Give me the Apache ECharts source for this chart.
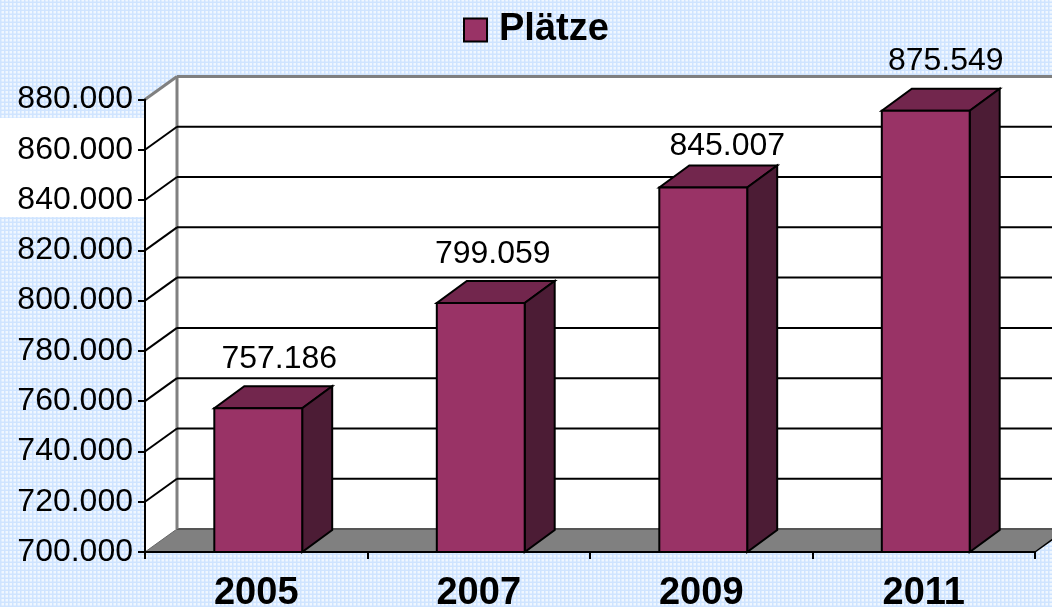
<!DOCTYPE html>
<html>
<head>
<meta charset="utf-8">
<title>Plätze</title>
<script src="https://cdn.jsdelivr.net/npm/echarts@6/dist/echarts.min.js"></script>
<style>
  html, body { margin: 0; padding: 0; }
  #wrap {
    position: relative; width: 1052px; height: 607px; overflow: hidden;
    background-color: #f0f7ff;
    background-image:
      repeating-linear-gradient(90deg, #cfe4ff 0, #cfe4ff 1px, rgba(255,255,255,0) 2px, rgba(255,255,255,0) 4px),
      repeating-linear-gradient(0deg, #cfe4ff 0, #cfe4ff 1px, rgba(255,255,255,0) 2px, rgba(255,255,255,0) 4px);
  }
  #patch { position: absolute; left: 0; top: 118px; width: 146px; height: 99px; background: #fff; }
  #chart { position: absolute; left: 0; top: 0; width: 1052px; height: 607px; }
</style>
</head>
<body>
<div id="wrap">
  <div id="patch"></div>
  <div id="chart"></div>
</div>
<script>
// data
const years = ['2005', '2007', '2009', '2011'];
const plaetze = [757186, 799059, 845007, 875549];
const yTicks = [700000, 720000, 740000, 760000, 780000, 800000, 820000, 840000, 860000, 880000];

// fake 3d look: walls sit a bit deeper than the bars
const WALL_DX = 32, WALL_DY = -23;
const DX = 30, DY = -22;
const BAR_SHARE = 0.395, BAR_SHIFT = 2;
const FONT = '"Liberation Sans", Arial, sans-serif';
// value labels are not placed evenly in the original: [right of bar centre, above back edge]
const labelNudge = [[21, 27], [12, 27], [24, 19], [20, 28]];
const fmt = v => String(v).replace(/\B(?=(\d{3})+$)/g, '.');

function poly(points, fill, stroke, lineWidth) {
  return {
    type: 'polygon',
    shape: { points: points },
    style: { fill: fill, stroke: stroke || null, lineWidth: lineWidth || 0 }
  };
}
function line(a, b, stroke, lineWidth) {
  return {
    type: 'line',
    shape: { x1: a[0], y1: a[1], x2: b[0], y2: b[1] },
    style: { stroke: stroke, lineWidth: lineWidth }
  };
}

// walls, floor, gridlines
function renderFrame(params, api) {
  const v = api.value(0);
  const cs = params.coordSys;
  const left = cs.x, right = cs.x + cs.width;
  const y = api.coord([0, v])[1];
  const back = (p) => [p[0] + WALL_DX, p[1] + WALL_DY];
  const kids = [];
  if (params.dataIndex === 0) {
    const top = cs.y;
    kids.push(poly([[left, y], [left, top], back([left, top]), back([left, y])], '#fff'));
    kids.push(poly([back([left, y]), back([left, top]), back([right, top]), back([right, y])], '#fff'));
    kids.push(poly([[left, y], back([left, y]), back([right, y]), [right, y]], '#808080'));
    kids.push(line(back([left, y]), back([right, y]), '#555', 2));
    kids.push(line([right, y], back([right, y]), '#000', 1.5));
    kids.push(line(back([left, y]), back([left, top]), '#808080', 3));
    kids.push(line([left, y], back([left, y]), '#666', 1));
  } else if (params.dataIndex === yTicks.length - 1) {
    kids.push(line([left, y], back([left, y]), '#808080', 3));
    kids.push(line(back([left, y]), back([right, y]), '#808080', 3));
  } else {
    kids.push(line([left, y], back([left, y]), '#000', 2));
    kids.push(line(back([left, y]), back([right, y]), '#000', 2));
  }
  return { type: 'group', children: kids };
}

// one box per year
function renderBar(params, api) {
  const i = api.value(0), v = api.value(1);
  const base = api.coord([i, yTicks[0]]);
  const topP = api.coord([i, v]);
  const w = api.size([1, 0])[0] * BAR_SHARE;
  const cx = base[0] + BAR_SHIFT;
  const x0 = cx - w / 2, x1 = cx + w / 2;
  const yT = topP[1], yB = base[1];
  return {
    type: 'group',
    children: [
      poly([[x0, yT], [x1, yT], [x1 + DX, yT + DY], [x0 + DX, yT + DY]], '#72264d', '#000', 2),
      poly([[x1, yT], [x1 + DX, yT + DY], [x1 + DX, yB + DY], [x1, yB]], '#4c1c35', '#000', 2),
      poly([[x0, yT], [x1, yT], [x1, yB], [x0, yB]], '#993366', '#000', 2),
      {
        type: 'text',
        style: {
          text: fmt(v), x: cx + labelNudge[i][0], y: yT + DY - labelNudge[i][1],
          fill: '#000', font: '32px ' + FONT, align: 'center', verticalAlign: 'middle'
        }
      }
    ]
  };
}

const chart = echarts.init(document.getElementById('chart'), null, { renderer: 'canvas' });
chart.setOption({
  backgroundColor: 'transparent',
  animation: false,
  textStyle: { fontFamily: FONT },
  legend: {
    left: 458, top: 6,
    data: ['Plätze'],
    icon: 'rect',
    itemWidth: 23, itemHeight: 23,
    itemStyle: { color: '#993366', borderColor: '#000', borderWidth: 2 },
    textStyle: { color: '#000', fontFamily: FONT, fontSize: 38, fontWeight: 'bold', padding: [0, 0, 0, 7] }
  },
  grid: { left: 145, right: 17, top: 99.5, bottom: 55, outerBoundsMode: 'none' },
  xAxis: {
    type: 'category',
    data: years,
    z: 5,
    axisLine: { lineStyle: { color: '#000', width: 2 } },
    axisTick: { show: true, length: 7, lineStyle: { color: '#000', width: 2 } },
    axisLabel: { color: '#000', fontFamily: FONT, fontSize: 38, fontWeight: 'bold', margin: 23 },
    splitLine: { show: false }
  },
  yAxis: {
    type: 'value',
    min: yTicks[0],
    max: yTicks[yTicks.length - 1],
    interval: 20000,
    z: 5,
    axisLine: { show: true, lineStyle: { color: '#000', width: 2 } },
    axisTick: { show: true, length: 7, lineStyle: { color: '#000', width: 2 } },
    axisLabel: { color: '#000', fontFamily: FONT, fontSize: 32, margin: 12, formatter: fmt },
    splitLine: { show: false }
  },
  series: [
    {
      name: 'frame',
      type: 'custom',
      z: 1,
      silent: true,
      renderItem: renderFrame,
      data: yTicks.map(v => [v]),
      encode: { y: 0 }
    },
    {
      name: 'Plätze',
      type: 'custom',
      z: 2,
      itemStyle: { color: '#993366' },
      renderItem: renderBar,
      data: plaetze.map((v, i) => [i, v]),
      encode: { x: 0, y: 1 }
    }
  ]
});

window.addEventListener('resize', () => { chart.resize(); });
</script>
</body>
</html>
